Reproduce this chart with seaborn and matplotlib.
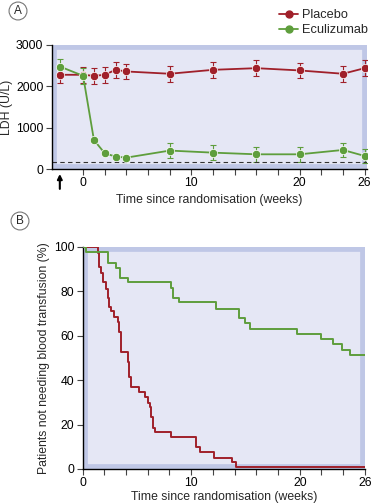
"""Eculizumab vs placebo: LDH over time (A) and transfusion-free survival (B)."""

import matplotlib.pyplot as plt
import matplotlib.patches as mpatches
from matplotlib.lines import Line2D
import pandas as pd
import seaborn as sns

# ─── Data ────────────────────────────────────────────────────────────────────

ldh_weeks = [-2.15, 0, 1, 2, 3, 4, 8, 12, 16, 20, 24, 26]
ldh_placebo = [2275, 2275, 2250, 2275, 2395, 2355, 2300, 2395, 2435, 2380, 2300, 2435]
ldh_placebo_err = [200, 200, 200, 190, 190, 190, 190, 200, 190, 190, 190, 200]
ldh_ecu = [2475, 2250, 700, 380, 300, 275, 445, 395, 355, 355, 460, 315]
ldh_ecu_err = [180, 200, 0, 0, 0, 0, 180, 180, 180, 180, 180, 180]
ldh_uln = 165

km_placebo_t = [0, 1.38, 1.54, 1.69, 1.85, 2.15, 2.31, 2.46, 2.62, 2.92, 3.23, 3.38,
                3.54, 4.22, 4.30, 4.46, 5.23, 5.79, 6.0, 6.22, 6.31, 6.46, 6.71,
                8.16, 10.4, 10.77, 12.07, 13.8, 14.1, 26]
km_placebo_s = [100, 97, 91, 88, 84, 81, 77, 73, 71, 68.5, 66, 61.5,
                52.8, 48.3, 41.6, 37.1, 34.8, 32.3, 29.9, 28.1, 23.6, 18.3, 16.8,
                14.3, 9.8, 7.8, 5.1, 3.3, 1.0, 1.0]
km_ecu_t = [0, 0.3, 2.3, 3.1, 3.4, 4.15, 8.15, 8.3, 8.9, 12.3, 14.4, 15.0, 15.4,
            19.7, 22.0, 23.1, 23.9, 24.6, 26]
km_ecu_s = [100, 97.5, 92.8, 90.6, 85.8, 84, 81.3, 77, 74.9, 71.9, 67.8, 65.6, 63,
            60.6, 58.5, 56.1, 53.6, 51.3, 51.3]

RED = "#A0202A"
GREEN = "#5E9E3C"
FILL = "#E5E7F5"
BORDER = "#BFC7E6"
FS = 8.8

sns.set_theme(style="ticks")
plt.rcParams.update({
    "font.family": ["Liberation Sans", "DejaVu Sans"],
    "font.size": FS,
    "axes.labelsize": FS,
    "axes.spines.top": False,
    "axes.spines.right": False,
    "axes.linewidth": 1.0,
    "axes.edgecolor": "black",
    "xtick.color": "#444444",
    "ytick.color": "#444444",
    "xtick.labelcolor": "black",
    "ytick.labelcolor": "black",
    "xtick.major.size": 4,
    "ytick.major.size": 4,
    "xtick.major.width": 0.8,
    "ytick.major.width": 0.8,
    "xtick.labelsize": FS,
    "ytick.labelsize": FS,
})

fig = plt.figure(figsize=(3.72, 5.03), dpi=100)
ax_a = fig.add_axes([0.139, 0.664, 0.847, 0.247])
ax_b = fig.add_axes([0.222, 0.0676, 0.759, 0.442])


def panel_background(ax):
    ax.set_facecolor("white")
    ax.add_patch(mpatches.Rectangle(
        (0, 0), 1, 1, transform=ax.transAxes, facecolor=FILL,
        edgecolor=BORDER, linewidth=7, zorder=0, clip_on=True))


def week_ticks(ax):
    ticks = list(range(0, 27, 2))
    ax.set_xticks(ticks)
    ax.set_xticklabels([str(t) if t in (0, 10, 20, 26) else "" for t in ticks])
    ax.tick_params(axis="x", pad=2)
    ax.tick_params(axis="y", pad=2)


# ─── Panel A: LDH ────────────────────────────────────────────────────────────

df_a = pd.DataFrame({
    "week": ldh_weeks * 2,
    "ldh": ldh_placebo + ldh_ecu,
    "arm": ["Placebo"] * len(ldh_weeks) + ["Eculizumab"] * len(ldh_weeks),
})
panel_background(ax_a)
ax_a.errorbar(ldh_weeks, ldh_placebo, yerr=ldh_placebo_err, fmt="none",
              ecolor=RED, elinewidth=0.8, capsize=2.5, capthick=0.8, zorder=2)
ax_a.errorbar(ldh_weeks, ldh_ecu, yerr=ldh_ecu_err, fmt="none",
              ecolor=GREEN, elinewidth=0.8, capsize=2.5, capthick=0.8, zorder=2)
sns.lineplot(data=df_a, x="week", y="ldh", hue="arm",
             palette={"Placebo": RED, "Eculizumab": GREEN},
             marker="o", markersize=6, linewidth=1.3, markeredgewidth=0.5,
             legend=False, ax=ax_a, zorder=3)
ax_a.axhline(ldh_uln, color="#333333", linestyle=(0, (4, 3)), linewidth=0.8, zorder=2)
ax_a.set_xlim(-2.9, 26.2)
ax_a.set_ylim(0, 3000)
ax_a.set_yticks([0, 1000, 2000, 3000])
week_ticks(ax_a)
ax_a.set_xlabel("Time since randomisation (weeks)", labelpad=3)
ax_a.set_ylabel("LDH (U/L)", labelpad=2)
ax_a.annotate("", xy=(-2.15, -0.04), xytext=(-2.15, -0.16),
              xycoords=("data", "axes fraction"), textcoords=("data", "axes fraction"),
              arrowprops=dict(arrowstyle="-|>", color="black", lw=1.5,
                              mutation_scale=7, shrinkA=0, shrinkB=0),
              annotation_clip=False)

# ─── Panel B: transfusion-free ──────────────────────────────────────────────

df_b = pd.DataFrame({
    "week": km_placebo_t + km_ecu_t,
    "pct": km_placebo_s + km_ecu_s,
    "arm": ["Placebo"] * len(km_placebo_t) + ["Eculizumab"] * len(km_ecu_t),
})
panel_background(ax_b)
sns.lineplot(data=df_b, x="week", y="pct", hue="arm",
             palette={"Placebo": RED, "Eculizumab": GREEN},
             drawstyle="steps-post", linewidth=1.4, estimator=None, sort=False,
             legend=False, ax=ax_b, zorder=3)
ax_b.set_xlim(0, 26)
ax_b.set_ylim(0, 100)
ax_b.set_yticks(range(0, 101, 20))
week_ticks(ax_b)
ax_b.set_xlabel("Time since randomisation (weeks)", labelpad=1)
ax_b.set_ylabel("Patients not needing blood transfusion (%)", labelpad=3)

# ─── Legend and panel letters ───────────────────────────────────────────────

handles = [
    Line2D([], [], color=RED, marker="o", markersize=5, linewidth=1.3),
    Line2D([], [], color=GREEN, marker="o", markersize=5, linewidth=1.3),
]
fig.legend(handles, ["Placebo", "Eculizumab"], loc="upper left",
           bbox_to_anchor=(279 / 372, 1 - 9 / 503), frameon=False,
           fontsize=9.2, handlelength=1.5, handletextpad=0.3, labelspacing=0.25,
           borderaxespad=0, borderpad=0)

for letter, (x, y) in {"A": (18, 11), "B": (20, 221)}.items():
    fig.text(x / 372, 1 - y / 503, letter, ha="center", va="center", fontsize=8.5,
             bbox=dict(boxstyle="circle,pad=0.25", facecolor="white",
                       edgecolor="#777777", linewidth=0.8))

fig.savefig("out.png", dpi=100)
